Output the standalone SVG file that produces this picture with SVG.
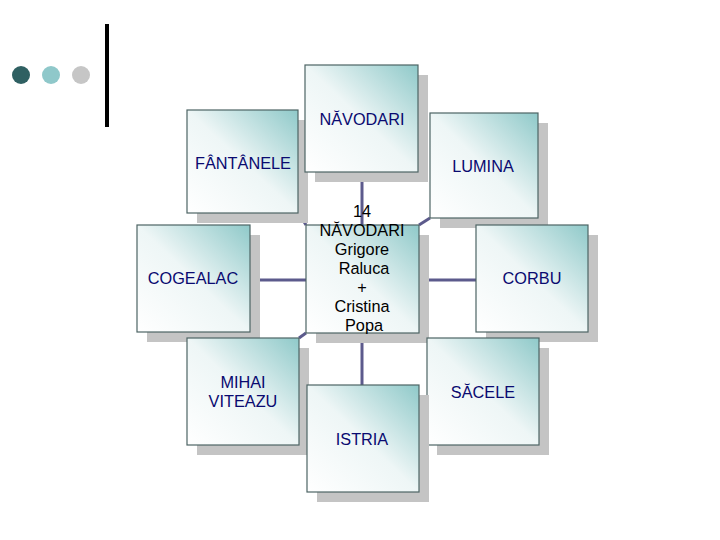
<svg xmlns="http://www.w3.org/2000/svg" width="720" height="540" viewBox="0 0 720 540">
<defs>
<linearGradient id="g" x1="0" y1="1" x2="1" y2="0">
<stop offset="0" stop-color="#ffffff"/>
<stop offset="0.5" stop-color="#eef6f6"/>
<stop offset="1" stop-color="#8fc9c9"/>
</linearGradient>
<style>
.sh{fill:#c4c4c4}
.bx{fill:url(#g);stroke:#4d6464;stroke-width:1.2}
.t{font-family:"Liberation Sans",Arial,sans-serif;font-size:16.3px;fill:#0a0a70;text-anchor:middle}
.c{font-family:"Liberation Sans",Arial,sans-serif;font-size:16.3px;fill:#000;text-anchor:middle}
.ln{stroke:#5c5a8c;stroke-width:3;fill:none}
</style>
</defs>
<rect width="720" height="540" fill="#fff"/>
<g id="deco">
<circle cx="21" cy="75" r="9" fill="#2f6062"/>
<circle cx="51" cy="75" r="9" fill="#8fc8ca"/>
<circle cx="81" cy="75" r="9" fill="#c6c6c6"/>
<rect x="105" y="24" width="4" height="103" fill="#000"/>
</g>
<g id="connectors">
<line class="ln" x1="362" y1="172" x2="362" y2="225"/>
<line class="ln" x1="362" y1="333" x2="362" y2="385"/>
<line class="ln" x1="250" y1="280" x2="306" y2="280"/>
<line class="ln" x1="419" y1="280" x2="476" y2="280"/>
<line class="ln" x1="298" y1="212" x2="306" y2="225"/>
<line class="ln" x1="419" y1="225" x2="430" y2="218"/>
<line class="ln" x1="306" y1="333" x2="299" y2="338"/>
<line class="ln" x1="419" y1="333" x2="427" y2="338"/>
</g>
<g id="fantanele">
<rect class="sh" x="197" y="120" width="111" height="103"/>
<rect class="bx" x="187" y="110" width="111" height="103"/>
<text class="t" x="243" y="169">FÂNTÂNELE</text>
</g>
<g id="navodari">
<rect class="sh" x="315" y="75" width="113" height="107"/>
<rect class="bx" x="305" y="65" width="113" height="107"/>
<text class="t" x="362" y="125">NĂVODARI</text>
</g>
<g id="lumina">
<rect class="sh" x="440" y="123" width="108" height="105"/>
<rect class="bx" x="430" y="113" width="108" height="105"/>
<text class="t" x="483" y="172">LUMINA</text>
</g>
<g id="cogealac">
<rect class="sh" x="147" y="235" width="113" height="107"/>
<rect class="bx" x="137" y="225" width="113" height="107"/>
<text class="t" x="193" y="284">COGEALAC</text>
</g>
<g id="corbu">
<rect class="sh" x="486" y="235" width="112" height="107"/>
<rect class="bx" x="476" y="225" width="112" height="107"/>
<text class="t" x="532" y="284">CORBU</text>
</g>
<g id="center">
<rect class="sh" x="316" y="235" width="113" height="108"/>
<rect class="bx" x="306" y="225" width="113" height="108"/>
<text class="c" x="362" y="217">14</text>
<text class="c" x="362" y="236">NĂVODARI</text>
<text class="c" x="362" y="255">Grigore</text>
<text class="c" x="364" y="274">Raluca</text>
<text class="c" x="362" y="293">+</text>
<text class="c" x="362" y="312">Cristina</text>
<text class="c" x="364" y="331">Popa</text>
</g>
<g id="mihai">
<rect class="sh" x="197" y="348" width="112" height="107"/>
<rect class="bx" x="187" y="338" width="112" height="107"/>
<text class="t" x="243" y="388">MIHAI</text>
<text class="t" x="243" y="407">VITEAZU</text>
</g>
<g id="sacele">
<rect class="sh" x="437" y="348" width="112" height="107"/>
<rect class="bx" x="427" y="338" width="112" height="107"/>
<text class="t" x="483" y="398">SĂCELE</text>
</g>
<g id="istria">
<rect class="sh" x="317" y="395" width="112" height="107"/>
<rect class="bx" x="307" y="385" width="112" height="107"/>
<text class="t" x="362" y="445">ISTRIA</text>
</g>
</svg>
